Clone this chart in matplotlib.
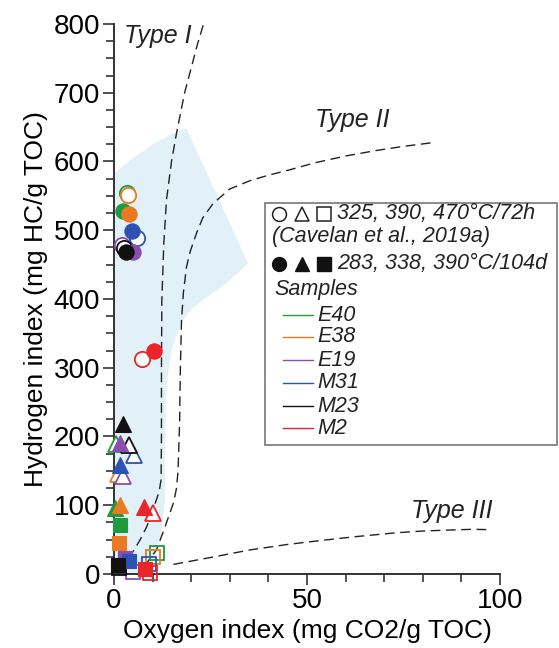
import matplotlib
matplotlib.use('Agg')
import matplotlib.pyplot as plt
from matplotlib.lines import Line2D
from matplotlib.patches import Rectangle, Polygon

plt.rcParams['font.family'] = ['Liberation Sans', 'DejaVu Sans']

# Samples and colours
samples = ['E40', 'E38', 'E19', 'M31', 'M23', 'M2']
colors = ['#1f9a3f', '#ea7a22', '#8a4fae', '#2d52b4', '#111111', '#e8262a']

# Cavelan et al. (2019a), 325/390/470 C - 72h  (OI, HI)
open_circle_oi = [3.3, 3.7, 2.2, 6.0, 2.6, 7.3]
open_circle_hi = [554, 551, 478, 488, 474, 312]
open_tri_oi = [0.5, 1.1, 2.3, 5.3, 4.0, 10.2]
open_tri_hi = [189, 146, 142, 173, 188, 89]
open_sq_oi = [11.2, 10.2, 5.0, 9.1, 1.4, 9.3]
open_sq_hi = [30, 24, 3, 14, 8, 2]

# This study, 283/338/390 C - 104d  (OI, HI)
fill_circle_oi = [2.4, 4.0, 5.0, 4.7, 3.1, 10.4]
fill_circle_hi = [528, 524, 469, 499, 469, 325]
fill_tri_oi = [0.3, 1.6, 1.6, 1.6, 2.4, 7.8]
fill_tri_hi = [96, 100, 190, 159, 218, 98]
fill_sq_oi = [1.6, 1.4, 2.8, 4.0, 1.1, 8.0]
fill_sq_hi = [71, 45, 23, 19, 13, 7]

# Kerogen type boundaries (OI, HI)
type1_oi = [23.1, 21.6, 20.1, 18.3, 16.2, 14.9, 13.6, 12.9, 12.4, 12.3, 12.3,
            12.2, 11.7, 11.0, 9.9, 8.5, 6.8, 4.1]
type1_hi = [798, 770, 738, 700, 641, 600, 544, 480, 398, 300, 200,
            137, 120, 108, 90, 69, 50, 25]
type2_oi = [82, 75, 68, 60, 52, 45.6, 40, 35.2, 30, 25.7, 23, 21.4, 19.8, 18.8,
            18, 17.5, 17.2, 17.0, 16.6, 16.2, 15.5, 14.5, 13, 11, 8.5]
type2_hi = [627, 622, 616, 608, 598, 588, 580, 572, 560, 539, 518, 496, 470, 447,
            410, 369, 300, 220, 150, 125, 105, 89, 65, 35, 16]
type3_oi = [15.4, 25, 35.2, 45, 52.5, 62, 73.2, 80, 87, 93, 97]
type3_hi = [14, 24, 35, 43, 48, 54, 60, 62.5, 64, 65, 64.5]

# Shaded domain
zone_oi = [0, 5, 10, 15, 18.8, 34.7, 32, 28, 23.6, 20, 17.9, 16, 15, 14, 13.5,
           13.2, 13.2, 12.6, 11.9, 10.5, 9.3, 8, 0]
zone_hi = [583, 605, 625, 640, 648, 452, 437, 418, 401, 385, 369, 345, 326, 290, 253,
           180, 108, 75, 49, 28, 13, 0, 0]

fig = plt.figure(figsize=(5.59, 6.48), dpi=100)
ax = fig.add_axes([0.2039, 0.1142, 0.6905, 0.8488])

ax.add_patch(Polygon(list(zip(zone_oi, zone_hi)), closed=True,
                     facecolor='#e2f0f8', edgecolor='none', zorder=0))

dash = dict(color='#222222', lw=1.0, ls=(0, (7, 4)), zorder=1)
ax.plot(type1_oi, type1_hi, **dash)
ax.plot(type2_oi, type2_hi, **dash)
ax.plot(type3_oi, type3_hi, **dash)

ax.text(2.5, 773, 'Type I', fontsize=18, style='italic', color='#222222')
ax.text(52, 650, 'Type II', fontsize=18, style='italic', color='#222222')
ax.text(77, 82, 'Type III', fontsize=18, style='italic', color='#222222')

ms_c, ms_t, ms_s = 11, 11, 10
for i, c in enumerate(colors):
    kw = dict(ls='none', mec=c, mew=1.3, clip_on=False, zorder=3)
    ax.plot(open_circle_oi[i], open_circle_hi[i], marker='o', ms=ms_c, mfc='white', **kw)
    ax.plot(open_tri_oi[i], open_tri_hi[i], marker='^', ms=ms_t, mfc='white', **kw)
    ax.plot(open_sq_oi[i], open_sq_hi[i], marker='s', ms=ms_s, mfc='none', **kw)
for i, c in enumerate(colors):
    kw = dict(ls='none', mec=c, mfc=c, mew=0.8, clip_on=False, zorder=4)
    ax.plot(fill_circle_oi[i], fill_circle_hi[i], marker='o', ms=ms_c, **kw)
    ax.plot(fill_tri_oi[i], fill_tri_hi[i], marker='^', ms=ms_t, **kw)
    ax.plot(fill_sq_oi[i], fill_sq_hi[i], marker='s', ms=ms_s, **kw)

ax.set_xlim(0, 100)
ax.set_ylim(0, 800)
ax.set_xticks([0, 50, 100])
ax.set_xticks(range(0, 101, 10), minor=True)
ax.set_yticks(range(0, 801, 100))
ax.set_yticks(range(0, 801, 25), minor=True)
for side in ('top', 'right'):
    ax.spines[side].set_visible(False)
for side in ('left', 'bottom'):
    ax.spines[side].set_color('#333333')
    ax.spines[side].set_linewidth(1.4)
ax.tick_params(which='both', direction='out', color='#333333', width=1.2)
ax.tick_params(which='major', length=8, labelsize=20, pad=2)
ax.tick_params(which='minor', length=6)
ax.set_xlabel('Oxygen index (mg CO2/g TOC)', fontsize=19, labelpad=4)
ax.set_ylabel('Hydrogen index (mg HC/g TOC)', fontsize=19, labelpad=4)
ax.set_facecolor('white')


def fx(px):
    return px / 559


def fy(py):
    return 1 - py / 648


# Legend box
fig.add_artist(Rectangle((fx(265), fy(445)), fx(557) - fx(265), fy(203) - fy(445),
                         transform=fig.transFigure, facecolor='white',
                         edgecolor='#777777', lw=1.2, zorder=5))
lg = dict(fontsize=15.5, color='#222222', va='center', zorder=6)
for mk, x in zip(['o', '^', 's'], [279, 302, 324]):
    fig.add_artist(Line2D([fx(x)], [fy(214)], marker=mk, ms=10, mfc='white',
                          mec='#222222', mew=1.1, ls='none',
                          transform=fig.transFigure, zorder=6))
    fig.add_artist(Line2D([fx(x)], [fy(264)], marker=mk, ms=10, mfc='#111111',
                          mec='#111111', ls='none',
                          transform=fig.transFigure, zorder=6))
fig.text(fx(337), fy(214), '325, 390, 470\u00b0C/72h', style='italic', **lg)
fig.text(fx(272), fy(236), '(Cavelan et al., 2019a)', style='italic', **lg)
fig.text(fx(337), fy(264), '283, 338, 390\u00b0C/104d', style='italic', **lg)
fig.text(fx(274), fy(290), 'Samples', style='italic', **lg)
row_y = [315, 337, 360, 383, 406, 428]
for name, c, y in zip(samples, colors, row_y):
    fig.add_artist(Line2D([fx(283), fx(313)], [fy(y), fy(y)], color=c, lw=1.0,
                          transform=fig.transFigure, zorder=6))
    fig.text(fx(317), fy(y), name, style='italic', **lg)

fig.savefig('out.png', dpi=100)
